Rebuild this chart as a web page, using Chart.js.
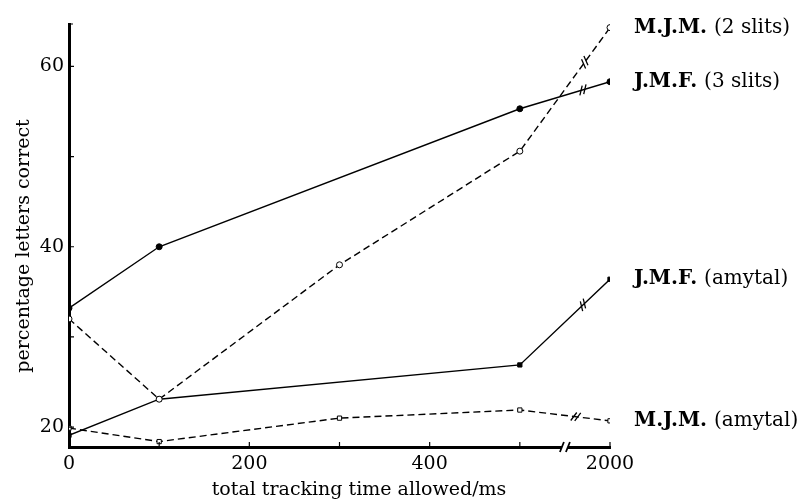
<!DOCTYPE html>
<html>
<head>
<meta charset="utf-8">
<script src="https://cdn.jsdelivr.net/npm/chart.js@4.4.0/dist/chart.umd.min.js"></script>
<style>
  html, body { margin: 0; padding: 0; background: #fff; }
</style>
</head>
<body>
<canvas id="chart" width="809" height="504"></canvas>
<script>
// tracking times (ms) for each subject
let timesJMF = [0, 100, 500, 2000];
let timesMJM = [0, 100, 300, 500, 2000];

// percentage letters correct
let mjm2Slits = [32.0, 23.1, 38.0, 50.6, 64.3];
let jmf3Slits = [33.2, 40.0, 55.3, 58.3];
let jmfAmytal = [19.1, 23.1, 26.9, 36.4];
let mjmAmytal = [19.9, 18.4, 21.0, 21.9, 20.7];

let subjects = ['M.J.M.', 'J.M.F.', 'J.M.F.', 'M.J.M.'];
let conditions = ['(2 slits)', '(3 slits)', '(amytal)', '(amytal)'];

let xTickValues = [0, 100, 200, 300, 400, 500, 2000];
let xTickLabels = ['0', '', '200', '', '400', '', '2000'];
let yTickValues = [20, 30, 40, 50, 60];
let yTickLabels = ['20', '', '40', '', '60'];

// the axis is broken after 500 ms, 2000 ms is drawn just past the break
function axisPos(t) {
  return t > 500 ? 600 : t;
}

function toPoints(times, values) {
  return times.map((t, i) => ({ x: axisPos(t), y: values[i] }));
}

const serif = 'DejaVu Serif';
const breakAt = [0.72, 0.7, 0.7, 0.62];

const annotate = {
  id: 'annotate',
  afterDatasetsDraw(chart) {
    const ctx = chart.ctx;
    const xs = chart.scales.x, ys = chart.scales.y;
    const area = chart.chartArea;
    ctx.save();
    ctx.strokeStyle = '#000';
    ctx.fillStyle = '#000';

    // inward tick marks
    ctx.lineWidth = 1.2;
    ctx.beginPath();
    xTickValues.forEach(v => {
      const px = xs.getPixelForValue(axisPos(v));
      ctx.moveTo(px, area.bottom);
      ctx.lineTo(px, area.bottom - 5);
    });
    yTickValues.forEach(v => {
      const py = ys.getPixelForValue(v);
      ctx.moveTo(area.left, py);
      ctx.lineTo(area.left + 5, py);
    });
    ctx.moveTo(area.left, area.top);
    ctx.lineTo(area.left + 4, area.top);
    ctx.stroke();

    // break on x axis
    const bx = xs.getPixelForValue(550);
    const by = area.bottom;
    ctx.fillStyle = '#fff';
    ctx.fillRect(bx - 3, by - 4, 6, 8);
    ctx.lineWidth = 1.8;
    ctx.beginPath();
    [-3, 3].forEach(off => {
      ctx.moveTo(bx + off - 2, by + 5);
      ctx.lineTo(bx + off + 2, by - 5);
    });
    ctx.stroke();

    // break marks on the last segment of each line + labels
    chart.data.datasets.forEach((ds, i) => {
      const pts = chart.getDatasetMeta(i).data;
      const p1 = pts[pts.length - 2], p2 = pts[pts.length - 1];
      const dx = p2.x - p1.x, dy = p2.y - p1.y;
      const len = Math.hypot(dx, dy);
      const ux = dx / len, uy = dy / len;
      const cx = p1.x + dx * breakAt[i], cy = p1.y + dy * breakAt[i];
      const ang = Math.atan2(dy, dx) - Math.PI / 3;
      const mx = Math.cos(ang) * 5, my = Math.sin(ang) * 5;
      ctx.lineWidth = 1.3;
      ctx.beginPath();
      [-2, 2].forEach(off => {
        const ox = cx + ux * off, oy = cy + uy * off;
        ctx.moveTo(ox - mx, oy - my);
        ctx.lineTo(ox + mx, oy + my);
      });
      ctx.stroke();

      ctx.fillStyle = '#000';
      ctx.textBaseline = 'middle';
      ctx.textAlign = 'left';
      ctx.font = 'bold 20px "' + serif + '"';
      const lx = p2.x + 24;
      ctx.fillText(subjects[i], lx, p2.y);
      const w = ctx.measureText(subjects[i] + ' ').width;
      ctx.font = '20px "' + serif + '"';
      ctx.fillText(conditions[i], lx + w, p2.y);
    });

    // axis titles
    ctx.fillStyle = '#000';
    ctx.font = '19px "' + serif + '"';
    ctx.textAlign = 'center';
    ctx.textBaseline = 'middle';
    ctx.fillText('total tracking time allowed/ms', 359, 490);
    ctx.translate(24, 246);
    ctx.rotate(-Math.PI / 2);
    ctx.fillText('percentage letters correct', 0, 0);
    ctx.restore();
  }
};

new Chart(document.getElementById('chart'), {
  type: 'line',
  data: {
    datasets: [
      {
        data: toPoints(timesMJM, mjm2Slits),
        borderColor: '#000', borderWidth: 1.4, borderDash: [7, 4],
        pointStyle: 'circle', pointRadius: 3,
        pointBackgroundColor: '#fff', pointBorderColor: '#000', pointBorderWidth: 1
      },
      {
        data: toPoints(timesJMF, jmf3Slits),
        borderColor: '#000', borderWidth: 1.4,
        pointStyle: 'circle', pointRadius: 3,
        pointBackgroundColor: '#000', pointBorderColor: '#000', pointBorderWidth: 1
      },
      {
        data: toPoints(timesJMF, jmfAmytal),
        borderColor: '#000', borderWidth: 1.4,
        pointStyle: 'rect', pointRadius: 3,
        pointBackgroundColor: '#000', pointBorderColor: '#000', pointBorderWidth: 1
      },
      {
        data: toPoints(timesMJM, mjmAmytal),
        borderColor: '#000', borderWidth: 1.4, borderDash: [7, 4],
        pointStyle: 'rect', pointRadius: 3,
        pointBackgroundColor: '#fff', pointBorderColor: '#000', pointBorderWidth: 1
      }
    ]
  },
  options: {
    responsive: false,
    animation: false,
    layout: { padding: { left: 0, right: 199, top: 24, bottom: 0 } },
    elements: { line: { tension: 0 } },
    plugins: { legend: { display: false }, tooltip: { enabled: false } },
    scales: {
      x: {
        type: 'linear', min: 0, max: 600,
        grid: { display: false, drawTicks: false },
        border: { display: true, width: 3, color: '#000' },
        afterBuildTicks: s => { s.ticks = xTickValues.map(v => ({ value: axisPos(v) })); },
        afterFit: s => { s.height = 57; },
        ticks: {
          autoSkip: false, maxRotation: 0, padding: 6, color: '#000',
          font: { family: serif, size: 19 },
          callback: (v, i) => xTickLabels[i]
        }
      },
      y: {
        type: 'linear', min: 17.8, max: 64.7,
        grid: { display: false, drawTicks: false },
        border: { display: true, width: 3, color: '#000' },
        afterBuildTicks: s => { s.ticks = yTickValues.map(v => ({ value: v })); },
        afterFit: s => { s.width = 69; },
        ticks: {
          autoSkip: false, padding: 5, color: '#000',
          font: { family: serif, size: 19 },
          callback: (v, i) => yTickLabels[i]
        }
      }
    }
  },
  plugins: [annotate]
});
</script>
</body>
</html>
